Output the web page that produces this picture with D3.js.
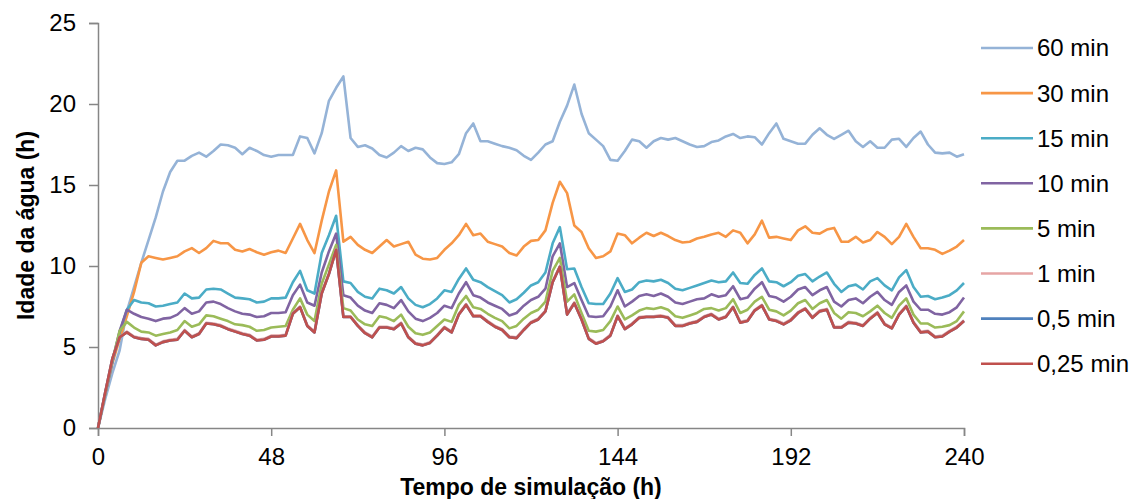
<!DOCTYPE html>
<html>
<head>
<meta charset="utf-8">
<script src="https://cdn.jsdelivr.net/npm/d3@7"></script>
<style>
  body { margin: 0; background: #fff; }
  svg { display: block; font-family: "Liberation Sans", Arial, sans-serif; }
</style>
</head>
<body>
<svg id="chart"></svg>
<script>
// hours, every 2 h from 0 to 240
const hours = d3.range(0, 241, 2);

const seriesNames = ['60 min', '30 min', '15 min', '10 min', '5 min', '1 min', '0,5 min', '0,25 min'];
const seriesColors = ['#95B3D7', '#F79646', '#4BACC6', '#8064A2', '#9BBB59', '#E6A5A4', '#4F81BD', '#C0504D'];

const s60 = [0, 1.8, 3.4, 4.8, 7.2, 8.7, 10.2, 11.6, 13.0, 14.6, 15.8, 16.5, 16.5, 16.8, 17.0, 16.75, 17.1, 17.5, 17.45, 17.3,
  16.9, 17.3, 17.1, 16.85, 16.75, 16.85, 16.85, 16.85, 18.0, 17.9, 16.95, 18.2, 20.2, 21.0, 21.7, 17.9, 17.35, 17.45, 17.25, 16.85,
  16.7, 17.0, 17.4, 17.1, 17.3, 17.2, 16.7, 16.35, 16.3, 16.4, 16.9, 18.2, 18.8, 17.7, 17.7, 17.55, 17.4, 17.3, 17.15, 16.8,
  16.55, 17.0, 17.5, 17.7, 18.9, 19.9, 21.2, 19.4, 18.2, 17.8, 17.4, 16.55, 16.5, 17.1, 17.8, 17.7, 17.3, 17.7, 17.9, 17.8,
  17.9, 17.7, 17.5, 17.35, 17.4, 17.65, 17.75, 18.0, 18.15, 17.9, 18.0, 17.95, 17.5, 18.2, 18.8, 17.85, 17.7, 17.55, 17.55, 18.1,
  18.5, 18.1, 17.85, 18.1, 18.35, 17.7, 17.35, 17.7, 17.3, 17.3, 17.8, 17.85, 17.35, 17.9, 18.3, 17.5, 17.0, 16.95, 17.0, 16.75,
  16.9, 17.0];

const s30 = [0, 2.1, 4.0, 5.5, 6.9, 8.4, 10.2, 10.6, 10.5, 10.4, 10.5, 10.6, 10.9, 11.1, 10.8, 11.1, 11.55, 11.4, 11.4, 11.0,
  10.9, 11.05, 10.85, 10.7, 10.85, 10.95, 10.8, 11.7, 12.6, 11.6, 10.8, 12.8, 14.6, 15.9, 11.5, 11.8, 11.3, 11.0, 10.8, 11.2,
  11.6, 11.2, 11.35, 11.5, 10.7, 10.45, 10.4, 10.5, 11.0, 11.4, 11.9, 12.6, 11.9, 12.0, 11.5, 11.35, 11.2, 10.8, 10.65, 11.2,
  11.55, 11.6, 12.2, 13.9, 15.2, 14.5, 12.5, 12.1, 11.1, 10.5, 10.6, 10.9, 12.0, 11.9, 11.4, 11.75, 12.05, 11.85, 12.05, 11.85,
  11.6, 11.45, 11.5, 11.7, 11.8, 11.95, 12.05, 11.8, 12.2, 12.05, 11.4, 11.95, 12.8, 11.75, 11.8, 11.7, 11.6, 12.2, 12.45, 12.05,
  12.0, 12.25, 12.35, 11.5, 11.5, 11.8, 11.45, 11.6, 12.1, 11.8, 11.35, 11.8, 12.6, 11.8, 11.1, 11.1, 11.0, 10.75, 10.95, 11.2,
  11.6];

const s15 = [0, 2.1, 4.1, 5.9, 7.3, 7.9, 7.75, 7.7, 7.5, 7.55, 7.65, 7.75, 8.3, 8.0, 8.05, 8.55, 8.6, 8.55, 8.3, 8.05,
  8.0, 7.95, 7.75, 7.8, 8.0, 8.0, 8.05, 9.0, 9.7, 8.5, 8.3, 10.8, 11.9, 13.1, 9.05, 8.95, 8.4, 8.1, 8.0, 8.6,
  8.5, 8.3, 8.7, 8.0, 7.6, 7.45, 7.65, 8.0, 8.5, 8.4, 9.2, 9.85, 9.15, 9.0, 8.7, 8.45, 8.2, 7.75, 7.95, 8.35,
  8.8, 9.0, 9.6, 11.4, 12.4, 9.8, 9.85, 8.7, 7.7, 7.65, 7.65, 8.3, 9.25, 8.4, 8.55, 9.0, 9.1, 9.05, 9.15, 8.95,
  8.6, 8.5, 8.65, 8.8, 8.95, 9.1, 9.0, 9.05, 9.6, 8.95, 8.9, 9.45, 9.85, 9.05, 9.0, 8.75, 9.0, 9.4, 9.5, 9.05,
  9.35, 9.6, 8.9, 8.4, 8.75, 8.85, 8.55, 9.05, 9.25, 8.8, 8.5, 9.3, 9.75, 8.7, 8.1, 8.15, 7.95, 8.05, 8.2, 8.5,
  8.95];

const s10 = [0, 2.1, 4.1, 6.0, 7.3, 7.05, 6.85, 6.75, 6.6, 6.75, 6.8, 7.0, 7.4, 7.05, 7.2, 7.75, 7.8, 7.65, 7.4, 7.2,
  7.05, 7.0, 6.85, 6.9, 7.1, 7.1, 7.15, 8.2, 8.85, 7.75, 7.55, 9.6, 10.9, 12.0, 8.2, 8.05, 7.55, 7.25, 7.1, 7.7,
  7.6, 7.4, 7.9, 7.2, 6.75, 6.6, 6.8, 7.1, 7.55, 7.4, 8.3, 9.0, 8.2, 8.05, 7.75, 7.55, 7.35, 6.95, 7.1, 7.55,
  7.9, 8.1, 8.6, 10.6, 11.4, 8.7, 8.95, 7.9, 6.9, 6.85, 6.9, 7.5, 8.5, 7.5, 7.8, 8.15, 8.25, 8.15, 8.3, 8.1,
  7.75, 7.65, 7.8, 7.95, 8.0, 8.25, 8.1, 8.2, 8.75, 7.95, 8.05, 8.6, 9.0, 8.15, 8.05, 7.8, 8.1, 8.55, 8.7, 8.2,
  8.5, 8.7, 7.8, 7.5, 7.9, 8.0, 7.7, 8.1, 8.4, 7.9, 7.6, 8.4, 8.8, 7.8, 7.3, 7.3, 7.05, 7.0, 7.15, 7.45,
  8.05];

const s5 = [0, 2.1, 4.2, 6.0, 6.55, 6.2, 5.95, 5.9, 5.7, 5.8, 5.9, 6.05, 6.6, 6.25, 6.4, 6.95, 6.9, 6.75, 6.6, 6.4,
  6.35, 6.25, 6.0, 6.05, 6.2, 6.25, 6.3, 7.3, 8.0, 7.0, 6.6, 8.9, 10.1, 11.3, 7.4, 7.25, 6.7, 6.4, 6.3, 6.9,
  6.8, 6.6, 7.0, 6.25, 5.85, 5.75, 5.9, 6.3, 6.7, 6.55, 7.6, 8.15, 7.45, 7.35, 7.05, 6.8, 6.6, 6.15, 6.3, 6.75,
  7.1, 7.3, 7.8, 9.7, 10.5, 7.8, 8.25, 7.1, 6.0, 5.95, 6.05, 6.6, 7.5, 6.7, 6.95, 7.25, 7.4, 7.35, 7.45, 7.3,
  6.9, 6.8, 6.95, 7.1, 7.35, 7.4, 7.25, 7.4, 7.95, 7.1, 7.3, 7.8, 8.1, 7.3, 7.2, 6.95, 7.25, 7.7, 7.9, 7.35,
  7.7, 7.9, 7.1, 6.75, 7.15, 7.1, 6.9, 7.2, 7.55, 7.1, 6.8, 7.55, 8.0, 7.0, 6.45, 6.45, 6.2, 6.25, 6.35, 6.6,
  7.2];

const s1 = [0, 2.2, 4.3, 5.6, 5.95, 5.65, 5.55, 5.5, 5.15, 5.35, 5.45, 5.5, 6.05, 5.65, 5.85, 6.5, 6.45, 6.35, 6.15, 6.0,
  5.85, 5.75, 5.45, 5.5, 5.7, 5.7, 5.75, 7.1, 7.5, 6.35, 5.95, 8.35, 9.55, 11.05, 6.9, 6.9, 6.35, 5.9, 5.65, 6.25,
  6.25, 6.15, 6.5, 5.65, 5.25, 5.15, 5.3, 5.75, 6.25, 5.95, 7.05, 7.65, 6.95, 6.95, 6.6, 6.3, 6.1, 5.65, 5.6, 6.1,
  6.55, 6.75, 7.25, 9.05, 10.0, 7.05, 7.75, 6.75, 5.55, 5.25, 5.4, 5.75, 6.95, 6.15, 6.45, 6.85, 6.9, 6.9, 6.95, 6.85,
  6.35, 6.35, 6.5, 6.6, 6.9, 7.05, 6.75, 6.9, 7.5, 6.55, 6.65, 7.3, 7.6, 6.75, 6.65, 6.45, 6.7, 7.15, 7.4, 6.85,
  7.25, 7.35, 6.25, 6.25, 6.55, 6.5, 6.35, 6.8, 7.15, 6.45, 6.2, 7.05, 7.55, 6.55, 5.95, 6.0, 5.65, 5.7, 6.0, 6.25,
  6.65];

const s05 = [0, 2.2, 4.3, 5.6, 5.9, 5.6, 5.5, 5.45, 5.1, 5.3, 5.4, 5.45, 6.0, 5.6, 5.8, 6.45, 6.4, 6.3, 6.1, 5.95,
  5.8, 5.7, 5.4, 5.45, 5.65, 5.65, 5.7, 7.05, 7.45, 6.3, 5.9, 8.3, 9.5, 11.0, 6.85, 6.85, 6.3, 5.85, 5.6, 6.2,
  6.2, 6.1, 6.45, 5.6, 5.2, 5.1, 5.25, 5.7, 6.2, 5.9, 7.0, 7.6, 6.9, 6.9, 6.55, 6.25, 6.05, 5.6, 5.55, 6.05,
  6.5, 6.7, 7.2, 9.0, 9.95, 7.0, 7.7, 6.7, 5.5, 5.2, 5.35, 5.7, 6.9, 6.1, 6.4, 6.8, 6.85, 6.85, 6.9, 6.8,
  6.3, 6.3, 6.45, 6.55, 6.85, 7.0, 6.7, 6.85, 7.45, 6.5, 6.6, 7.25, 7.55, 6.7, 6.6, 6.4, 6.65, 7.1, 7.35, 6.8,
  7.2, 7.3, 6.2, 6.2, 6.5, 6.45, 6.3, 6.75, 7.1, 6.4, 6.15, 7.0, 7.5, 6.5, 5.9, 5.95, 5.6, 5.65, 5.95, 6.2,
  6.6];

const s025 = [0, 2.2, 4.3, 5.6, 5.9, 5.6, 5.5, 5.45, 5.1, 5.3, 5.4, 5.45, 6.0, 5.6, 5.8, 6.45, 6.4, 6.3, 6.1, 5.95,
  5.8, 5.7, 5.4, 5.45, 5.65, 5.65, 5.7, 7.05, 7.45, 6.3, 5.9, 8.3, 9.5, 11.0, 6.85, 6.85, 6.3, 5.85, 5.6, 6.2,
  6.2, 6.1, 6.45, 5.6, 5.2, 5.1, 5.25, 5.7, 6.2, 5.9, 7.0, 7.6, 6.9, 6.9, 6.55, 6.25, 6.05, 5.6, 5.55, 6.05,
  6.5, 6.7, 7.2, 9.0, 9.95, 7.0, 7.7, 6.7, 5.5, 5.2, 5.35, 5.7, 6.9, 6.1, 6.4, 6.8, 6.85, 6.85, 6.9, 6.8,
  6.3, 6.3, 6.45, 6.55, 6.85, 7.0, 6.7, 6.85, 7.45, 6.5, 6.6, 7.25, 7.55, 6.7, 6.6, 6.4, 6.65, 7.1, 7.35, 6.8,
  7.2, 7.3, 6.2, 6.2, 6.5, 6.45, 6.3, 6.75, 7.1, 6.4, 6.15, 7.0, 7.5, 6.5, 5.9, 5.95, 5.6, 5.65, 5.95, 6.2,
  6.6];

const xTicks = [0, 48, 96, 144, 192, 240];
const yTicks = [0, 5, 10, 15, 20, 25];

const allSeries = [s60, s30, s15, s10, s5, s1, s05, s025];

const config = {
  width: 1130,
  height: 499,
  margin: { top: 23, right: 166, bottom: 71, left: 98 }
};

const svg = d3.select('#chart')
  .attr('width', config.width)
  .attr('height', config.height);

const innerW = config.width - config.margin.left - config.margin.right;
const innerH = config.height - config.margin.top - config.margin.bottom;

const g = svg.append('g')
  .attr('transform', `translate(${config.margin.left}, ${config.margin.top})`);

const x = d3.scaleLinear().domain([0, 240]).range([0, innerW]);
const y = d3.scaleLinear().domain([0, 25]).range([innerH, 0]);

const axisColor = '#868686';

// y axis
const yAxis = g.append('g')
  .call(d3.axisLeft(y).tickValues(yTicks).tickSize(9).tickPadding(13));
yAxis.select('.domain').attr('stroke', axisColor).attr('stroke-width', 1.5);
yAxis.selectAll('.tick line').attr('stroke', axisColor).attr('stroke-width', 1.5);
yAxis.selectAll('.tick text')
  .attr('font-size', '24px')
  .attr('fill', '#000')
  .attr('font-family', '"Liberation Sans", Arial, sans-serif');

// x axis
const xAxis = g.append('g')
  .attr('transform', `translate(0, ${innerH})`)
  .call(d3.axisBottom(x).tickValues(xTicks).tickSize(8).tickPadding(12));
xAxis.select('.domain').attr('stroke', axisColor).attr('stroke-width', 1.5);
xAxis.selectAll('.tick line').attr('stroke', axisColor).attr('stroke-width', 1.5);
xAxis.selectAll('.tick text')
  .attr('font-size', '24px')
  .attr('fill', '#000')
  .attr('font-family', '"Liberation Sans", Arial, sans-serif');

// lines
const line = d3.line()
  .x((d, i) => x(hours[i]))
  .y(d => y(d));

g.selectAll('path.series')
  .data(allSeries)
  .enter()
  .append('path')
  .attr('class', 'series')
  .attr('d', line)
  .attr('fill', 'none')
  .attr('stroke', (d, i) => seriesColors[i])
  .attr('stroke-width', 2.6)
  .attr('stroke-linejoin', 'round');

// axis titles
svg.append('text')
  .attr('x', config.margin.left + innerW / 2)
  .attr('y', 495)
  .attr('text-anchor', 'middle')
  .attr('font-size', '23px')
  .attr('font-weight', 'bold')
  .text('Tempo de simulação (h)');

svg.append('text')
  .attr('transform', `translate(34, ${config.margin.top + innerH / 2}) rotate(-90)`)
  .attr('text-anchor', 'middle')
  .attr('font-size', '23px')
  .attr('font-weight', 'bold')
  .text('Idade da água (h)');

// legend
const legend = svg.append('g')
  .attr('transform', 'translate(981, 48)');

const item = legend.selectAll('g')
  .data(seriesNames)
  .enter()
  .append('g')
  .attr('transform', (d, i) => `translate(0, ${i * 45.1})`);

item.append('line')
  .attr('x1', 0).attr('x2', 52)
  .attr('y1', 0).attr('y2', 0)
  .attr('stroke', (d, i) => seriesColors[i])
  .attr('stroke-width', 2.6);

item.append('text')
  .attr('x', 56)
  .attr('dy', '0.35em')
  .attr('font-size', '24px')
  .text(d => d);
</script>
</body>
</html>
